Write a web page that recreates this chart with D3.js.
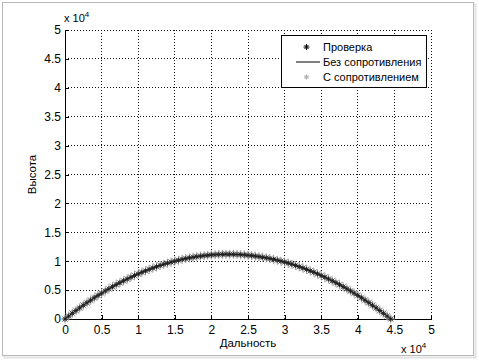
<!DOCTYPE html>
<html><head><meta charset="utf-8">
<script src="https://cdn.jsdelivr.net/npm/d3@7"></script>
<style>body{margin:0;background:#fff}svg{display:block;font-family:"Liberation Sans",Arial,sans-serif}</style>
</head><body><svg id="c" width="479" height="361"></svg>
<script>
// values in units of 10^4 m
const distance = [0,0.05,0.10,0.15,0.20,0.25,0.30,0.35,0.40,0.45,0.50,0.55,0.60,0.65,0.70,0.75,0.80,0.85,0.90,0.95,1.00,1.05,1.10,1.15,1.20,1.25,1.30,1.35,1.40,1.45,1.50,1.55,1.60,1.65,1.70,1.75,1.80,1.85,1.90,1.95,2.00,2.05,2.10,2.15,2.20,2.25,2.30,2.35,2.40,2.45,2.50,2.55,2.60,2.65,2.70,2.75,2.80,2.85,2.90,2.95,3.00,3.05,3.10,3.15,3.20,3.25,3.30,3.35,3.40,3.45,3.50,3.55,3.60,3.65,3.70,3.75,3.80,3.85,3.90,3.95,4.00,4.05,4.10,4.15,4.20,4.25,4.30,4.35,4.40,4.45];
const heightCheck = [0,0.0498,0.0984,0.1459,0.1923,0.2375,0.2817,0.3246,0.3665,0.4072,0.4468,0.4853,0.5226,0.5588,0.5939,0.6278,0.6606,0.6923,0.7228,0.7522,0.7805,0.8076,0.8337,0.8585,0.8823,0.9049,0.9264,0.9468,0.9660,0.9841,1.0011,1.0169,1.0316,1.0452,1.0576,1.0689,1.0791,1.0882,1.0961,1.1029,1.1085,1.1131,1.1164,1.1187,1.1198,1.1198,1.1187,1.1164,1.1131,1.1085,1.1029,1.0961,1.0882,1.0791,1.0689,1.0576,1.0452,1.0316,1.0169,1.0011,0.9841,0.9660,0.9468,0.9264,0.9049,0.8823,0.8585,0.8337,0.8076,0.7805,0.7522,0.7228,0.6923,0.6606,0.6278,0.5939,0.5588,0.5226,0.4853,0.4468,0.4072,0.3665,0.3246,0.2817,0.2375,0.1923,0.1459,0.0984,0.0498,0];
const heightNoDrag = heightCheck.slice();
const heightDrag = heightCheck.slice();
const xTicks = [0,0.5,1,1.5,2,2.5,3,3.5,4,4.5,5];
const yTicks = [0,0.5,1,1.5,2,2.5,3,3.5,4,4.5,5];
const legendLabels = ["Проверка","Без сопротивления","С сопротивлением"];
const xLabel = "Дальность", yLabel = "Высота";

const svg = d3.select("#c");
// frame
svg.append("rect").attr("x",4.5).attr("y",4.5).attr("width",471).attr("height",353).attr("fill","none").attr("stroke","#e2e2e2").attr("stroke-width",2);
svg.append("rect").attr("x",2.5).attr("y",2.5).attr("width",471).attr("height",353).attr("fill","#fff").attr("stroke","#b8b8b8");

const L=65,R=431,T=30,B=319;
const x = d3.scaleLinear().domain([0,5]).range([L,R]);
const y = d3.scaleLinear().domain([0,5]).range([B,T]);
const fmt = d => d3.format("")(d);

// grid
const g = svg.append("g");
xTicks.forEach(t=>{ if(t>0) g.append("line").attr("x1",x(t)).attr("x2",x(t)).attr("y1",B).attr("y2",T).attr("stroke","#111").attr("stroke-dasharray","1,2").attr("shape-rendering","crispEdges");});
yTicks.forEach(t=>{ if(t>0) g.append("line").attr("x1",L).attr("x2",R).attr("y1",y(t)).attr("y2",y(t)).attr("stroke","#111").attr("stroke-dasharray","1,2").attr("shape-rendering","crispEdges");});

// axes
const xa = svg.append("g").attr("transform",`translate(0,${B})`).call(d3.axisBottom(x).tickValues(xTicks).tickFormat(fmt).tickSizeInner(-4).tickSizeOuter(0).tickPadding(6));
const ya = svg.append("g").attr("transform",`translate(${L},0)`).call(d3.axisLeft(y).tickValues(yTicks).tickFormat(fmt).tickSizeInner(-4).tickSizeOuter(0).tickPadding(4));
[xa,ya].forEach(a=>{a.selectAll("path,line").attr("stroke","#000").attr("shape-rendering","crispEdges");a.selectAll("text").attr("font-size",12).attr("fill","#000").attr("font-family","Liberation Sans, Arial, sans-serif");});
xa.selectAll("text").attr("dy","0.71em");

// exponent labels
const e1 = svg.append("text").attr("x",64).attr("y",22).attr("font-size",11).attr("fill","#000");
e1.append("tspan").text("x 10");
e1.append("tspan").attr("dy",-5).attr("font-size",8).text("4");
const e2 = svg.append("text").attr("x",401).attr("y",353).attr("font-size",11).attr("fill","#000");
e2.append("tspan").text("x 10");
e2.append("tspan").attr("dy",-5).attr("font-size",8).text("4");

svg.append("text").attr("x",(L+R)/2).attr("y",347).attr("text-anchor","middle").attr("font-size",11.5).text(xLabel);
svg.append("text").attr("transform",`translate(36,${(T+B)/2}) rotate(-90)`).attr("text-anchor","middle").attr("font-size",11.5).text(yLabel);

// star marker
function star(sel, cx, cy, r, color, w){
  const p = d3.path();
  p.moveTo(cx-r,cy);p.lineTo(cx+r,cy);
  p.moveTo(cx,cy-r);p.lineTo(cx,cy+r);
  const d=r*0.7;
  p.moveTo(cx-d,cy-d);p.lineTo(cx+d,cy+d);
  p.moveTo(cx-d,cy+d);p.lineTo(cx+d,cy-d);
  sel.append("path").attr("d",p.toString()).attr("stroke",color).attr("stroke-width",w).attr("fill","none");
}
const data = distance.map((d,i)=>({x:d,c:heightCheck[i],n:heightNoDrag[i],r:heightDrag[i]}));
const plot = svg.append("g");
data.forEach(d=>star(plot,x(d.x),y(d.r),4.5,"#9a9a9a",1));
plot.append("path").datum(data).attr("d",d3.line().x(d=>x(d.x)).y(d=>y(d.n))).attr("fill","none").attr("stroke","#000").attr("stroke-width",1);
data.forEach(d=>star(plot,x(d.x),y(d.c),2.5,"#222",1));

// legend
const lg = svg.append("g");
lg.append("rect").attr("x",281.5).attr("y",35.5).attr("width",145).attr("height",52).attr("fill","#fff").attr("stroke","#000");
const rows=[47,62,77];
star(lg,306.5,rows[0],3,"#000",1);
lg.append("line").attr("x1",296).attr("x2",320).attr("y1",rows[1]).attr("y2",rows[1]).attr("stroke","#000");
star(lg,306.5,rows[2],2.5,"#aaa",1);
legendLabels.forEach((t,i)=>lg.append("text").attr("x",323).attr("y",rows[i]+4).attr("font-size",11).attr("fill","#000").text(t));
</script></body></html>
